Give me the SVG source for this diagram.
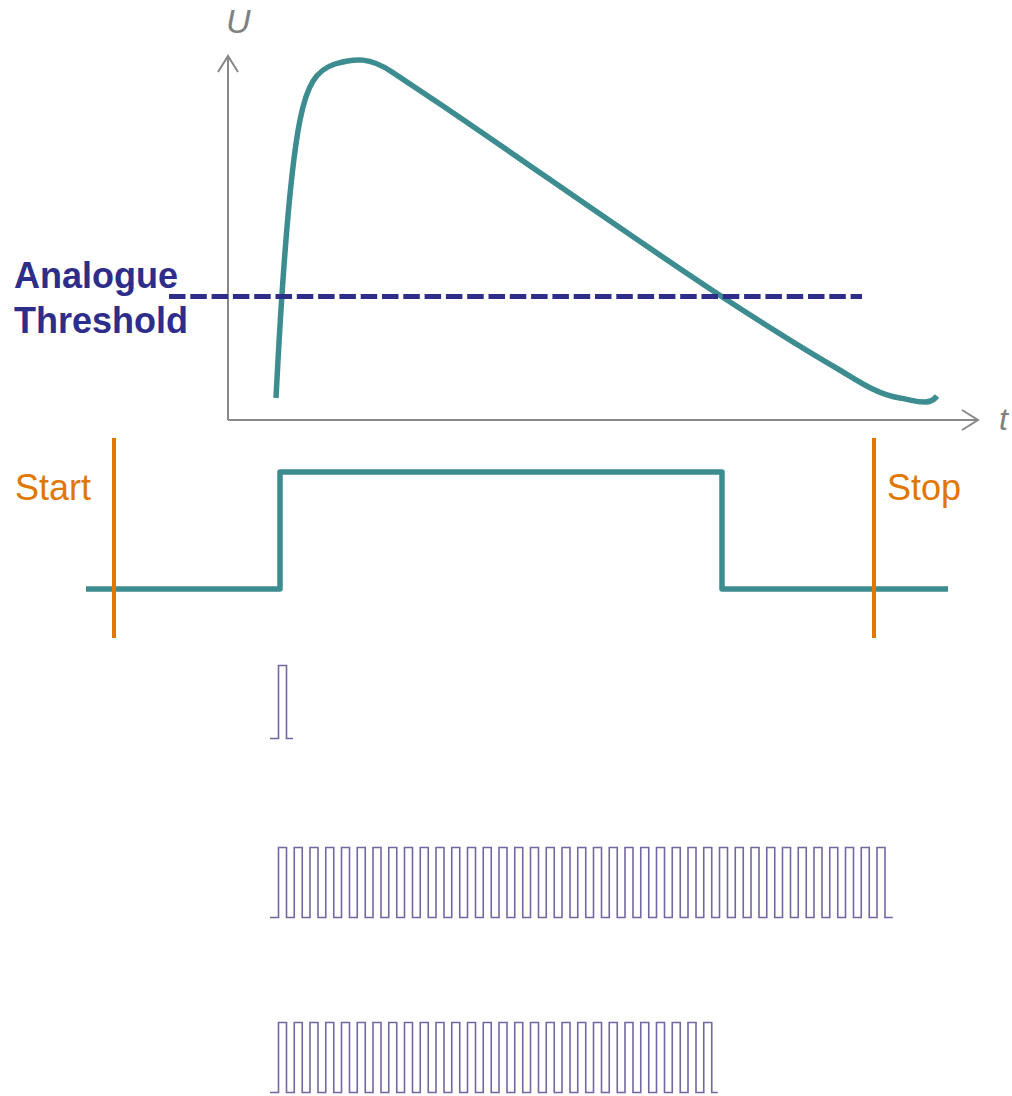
<svg xmlns="http://www.w3.org/2000/svg" width="1012" height="1096" viewBox="0 0 1012 1096">
  <style>
    .axis { fill: none; stroke: #888888; stroke-width: 2; stroke-linejoin: miter; }
    .axlabel { font-family: "Liberation Sans", Arial, sans-serif; font-style: italic; fill: #808080; }
    .teal { fill: none; stroke: #3d8c90; stroke-width: 5.5; stroke-linejoin: round; stroke-linecap: butt; }
    .orange { stroke: #e07800; stroke-width: 4; }
    .olabel { font-family: "Liberation Sans", Arial, sans-serif; font-size: 36px; fill: #e07800; }
    .thr { stroke: #2e2d8a; stroke-width: 5; stroke-dasharray: 16.5 4.8; }
    .tlabel { font-family: "Liberation Sans", Arial, sans-serif; font-size: 36px; font-weight: bold; fill: #2e2d8a; }
    .pulse { fill: none; stroke: #7466a0; stroke-width: 1.6; stroke-linejoin: miter; }
  </style>
  <rect width="1012" height="1096" fill="#ffffff"/>

  <g id="axes">
    <line class="axis" x1="228" y1="420" x2="228" y2="56"/>
    <polyline class="axis" points="218,72 228,56 238,72"/>
    <line class="axis" x1="228" y1="420" x2="977" y2="420"/>
    <polyline class="axis" points="962,410 978,420 962,430"/>
    <text class="axlabel" x="226" y="33" font-size="34">U</text>
    <text class="axlabel" x="999" y="430" font-size="32">t</text>
  </g>

  <g id="analogue-signal">
    <path class="teal" d="M276,398 C281,300 288,180 300,120 C307,85 316,70 335,64 C355,58 370,57 392,72 L440,104 C520,158 650,250 727,300 C770,328 805,350 838,369 C858,381 878,395 900,398 C912,400 915,402 925,402 C930,402 934,400 937,396"/>
  </g>

  <g id="threshold">
    <line class="thr" x1="169" y1="296.5" x2="862" y2="296.5"/>
    <text class="tlabel" x="14" y="288">Analogue</text>
    <text class="tlabel" x="14" y="333">Threshold</text>
  </g>

  <g id="digital-signal">
    <path class="teal" d="M86,589 H280 V472 H722 V589 H948"/>
  </g>

  <g id="start">
    <line class="orange" x1="114" y1="438" x2="114" y2="638"/>
    <text class="olabel" x="15" y="500">Start</text>
  </g>

  <g id="stop">
    <line class="orange" x1="874" y1="438" x2="874" y2="638"/>
    <text class="olabel" x="887" y="500">Stop</text>
  </g>

  <g id="single-pulse">
    <path class="pulse" d="M270,738.5 H278.5 V665.5 H286.5 V738.5 H293"/>
  </g>

  <g id="pulse-train-long">
    <path class="pulse" d="M270,917.5 h8.5
      v-70h8v70h7.75 v-70h8v70h7.75 v-70h8v70h7.75 v-70h8v70h7.75 v-70h8v70h7.75 v-70h8v70h7.75 v-70h8v70h7.75 v-70h8v70h7.75 v-70h8v70h7.75 v-70h8v70h7.75
      v-70h8v70h7.75 v-70h8v70h7.75 v-70h8v70h7.75 v-70h8v70h7.75 v-70h8v70h7.75 v-70h8v70h7.75 v-70h8v70h7.75 v-70h8v70h7.75 v-70h8v70h7.75 v-70h8v70h7.75
      v-70h8v70h7.75 v-70h8v70h7.75 v-70h8v70h7.75 v-70h8v70h7.75 v-70h8v70h7.75 v-70h8v70h7.75 v-70h8v70h7.75 v-70h8v70h7.75 v-70h8v70h7.75 v-70h8v70h7.75
      v-70h8v70h7.75 v-70h8v70h7.75 v-70h8v70h7.75 v-70h8v70h7.75 v-70h8v70h7.75 v-70h8v70h7.75 v-70h8v70h7.75 v-70h8v70h7.75 v-70h8v70h7.75"/>
  </g>

  <g id="pulse-train-short">
    <path class="pulse" d="M270,1092.5 h8.5
      v-70h8v70h7.75 v-70h8v70h7.75 v-70h8v70h7.75 v-70h8v70h7.75 v-70h8v70h7.75 v-70h8v70h7.75 v-70h8v70h7.75 v-70h8v70h7.75 v-70h8v70h7.75 v-70h8v70h7.75
      v-70h8v70h7.75 v-70h8v70h7.75 v-70h8v70h7.75 v-70h8v70h7.75 v-70h8v70h7.75 v-70h8v70h7.75 v-70h8v70h7.75 v-70h8v70h7.75 v-70h8v70h7.75 v-70h8v70h7.75
      v-70h8v70h7.75 v-70h8v70h7.75 v-70h8v70h7.75 v-70h8v70h7.75 v-70h8v70h7.75 v-70h8v70h7.75 v-70h8v70h7.75 v-70h8v70h6"/>
  </g>
</svg>
